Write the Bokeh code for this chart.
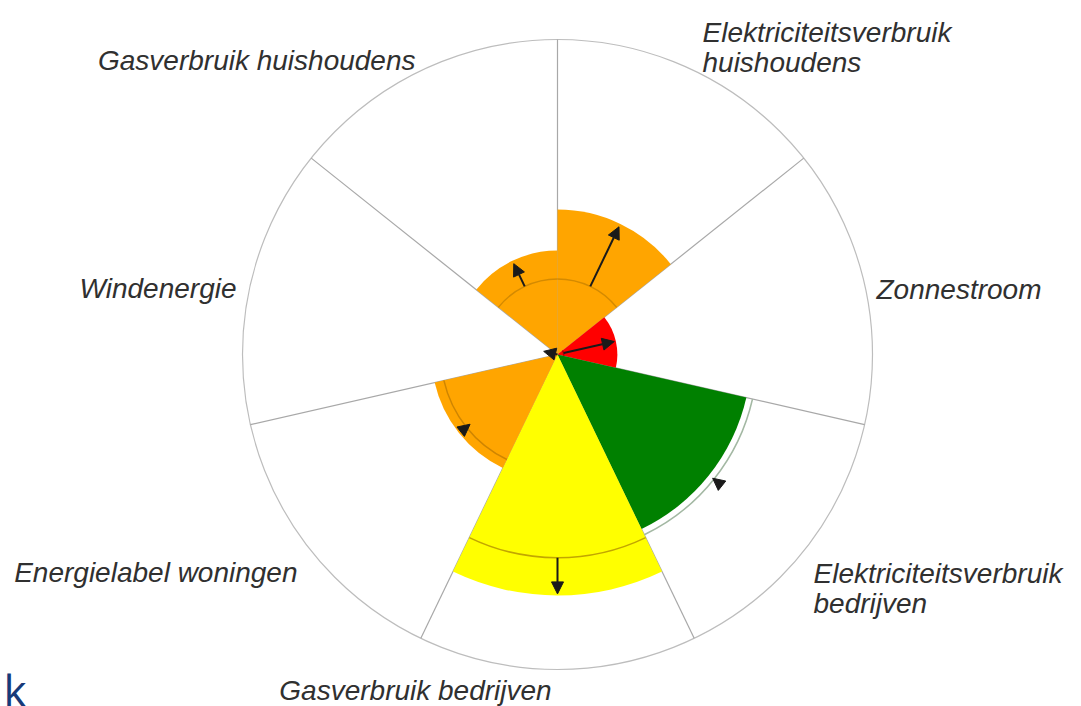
import math
from bokeh.plotting import figure
from bokeh.models import Range1d, ColumnDataSource, Arrow, NormalHead
from bokeh.core.properties import value
from bokeh.embed import file_html
from bokeh.resources import INLINE

# ---------------- data ----------------
categories = [
    "Elektriciteitsverbruik\nhuishoudens",
    "Zonnestroom",
    "Elektriciteitsverbruik\nbedrijven",
    "Gasverbruik bedrijven",
    "Energielabel woningen",
    "Windenergie",
    "Gasverbruik huishoudens",
]
scores = [46, 19, 61.5, 76.5, 40, 1, 33]          # filled sector radius (0-100)
reference = [24, 2, 63.5, 64.5, 37, 1, 24]       # reference arc (0-100)
trend_from = [24, 2, 66.5, 64.5, 39, 0, 24]      # arrow tail (0-100)
trend_to = [45, 18.5, 63, 76, 35.5, 4.5, 32]     # arrow tip (0-100)
score_max = 100

# ---------------- styles / layout ----------------
fill_colors = ["#FFA500", "#FF0000", "#008000", "#FFFF00", "#FFA500", "#FFA500", "#FFA500"]
ref_colors = ["#D48A00", "#B00000", "#A3B8A3", "#C2A600", "#CF8500", "#CF8500", "#D48A00"]
# label anchors in page pixels (x, baseline y of first line, alignment)
label_layout = [
    (702, 32, "left"),
    (876, 289, "left"),
    (813, 573, "left"),
    (415, 690, "center"),
    (297, 572, "right"),
    (236, 288, "right"),
    (415, 60, "right"),
]
line_step = 29.5

W, H = 1081, 706
CX, CY_PAGE = 557, 354
R = 315


def py(y_page):
    return H - y_page


CY = py(CY_PAGE)
n = len(categories)
step = 2 * math.pi / n


def rad(s):
    return s / score_max * R


p = figure(width=W, height=H, output_backend="svg", toolbar_location=None,
           x_range=Range1d(0, W), y_range=Range1d(0, H),
           min_border=0, outline_line_color=None, background_fill_color="white")
p.axis.visible = False
p.xgrid.visible = False
p.ygrid.visible = False

# outer circle
p.circle(x=[CX], y=[CY], radius=R, fill_color=None, line_color="#BDBDBD", line_width=1.2)

# sector boundaries
bx0, by0, bx1, by1 = [], [], [], []
for i in range(n):
    th = i * step
    bx0.append(CX); by0.append(CY)
    bx1.append(CX + R * math.sin(th)); by1.append(CY + R * math.cos(th))
p.segment(x0=bx0, y0=by0, x1=bx1, y1=by1, line_color="#A8A8A8", line_width=1.2)

# filled sectors
starts = [math.pi / 2 - (i + 1) * step for i in range(n)]
ends = [math.pi / 2 - i * step for i in range(n)]
wsrc = ColumnDataSource(dict(x=[CX] * n, y=[CY] * n, r=[rad(s) for s in scores],
                             sa=starts, ea=ends, c=fill_colors))
p.wedge(x="x", y="y", radius="r", start_angle="sa", end_angle="ea",
        direction="anticlock", fill_color="c", line_color=None, source=wsrc)

# reference arcs
asrc = ColumnDataSource(dict(x=[CX] * n, y=[CY] * n, r=[rad(s) for s in reference],
                             sa=starts, ea=ends, c=ref_colors))
p.arc(x="x", y="y", radius="r", start_angle="sa", end_angle="ea",
      direction="anticlock", line_color="c", line_width=1.5, source=asrc)

# trend arrows
xs, ys, xe, ye = [], [], [], []
for i in range(n):
    th = (i + 0.5) * step
    xs.append(CX + rad(trend_from[i]) * math.sin(th))
    ys.append(CY + rad(trend_from[i]) * math.cos(th))
    xe.append(CX + rad(trend_to[i]) * math.sin(th))
    ye.append(CY + rad(trend_to[i]) * math.cos(th))
arsrc = ColumnDataSource(dict(xs=xs, ys=ys, xe=xe, ye=ye))
p.add_layout(Arrow(end=NormalHead(size=12, fill_color="#1A1A1A", line_color="#1A1A1A"),
                   x_start="xs", y_start="ys", x_end="xe", y_end="ye",
                   line_color="#1A1A1A", line_width=2, source=arsrc))

# labels
lx, ly, lt, la = [], [], [], []
for cat, (x, yb, al) in zip(categories, label_layout):
    for k, line in enumerate(cat.split("\n")):
        lx.append(x); ly.append(py(yb + k * line_step)); lt.append(line); la.append(al)
lsrc = ColumnDataSource(dict(x=lx, y=ly, t=lt, a=la))
p.text(x="x", y="y", text="t", text_align="a", text_baseline="alphabetic",
       text_font=value("Liberation Sans"), text_font_style="italic",
       text_font_size="28px", text_color="#303030", source=lsrc)

# fragment at bottom-left
p.text(x=[3], y=[py(689)], text=["k"], text_align="left", text_baseline="alphabetic",
       text_font=value("Open Sans"), text_font_size="44px", text_color="#163A79")

open("out.html", "w").write(file_html(p, INLINE, title="Energie"))
